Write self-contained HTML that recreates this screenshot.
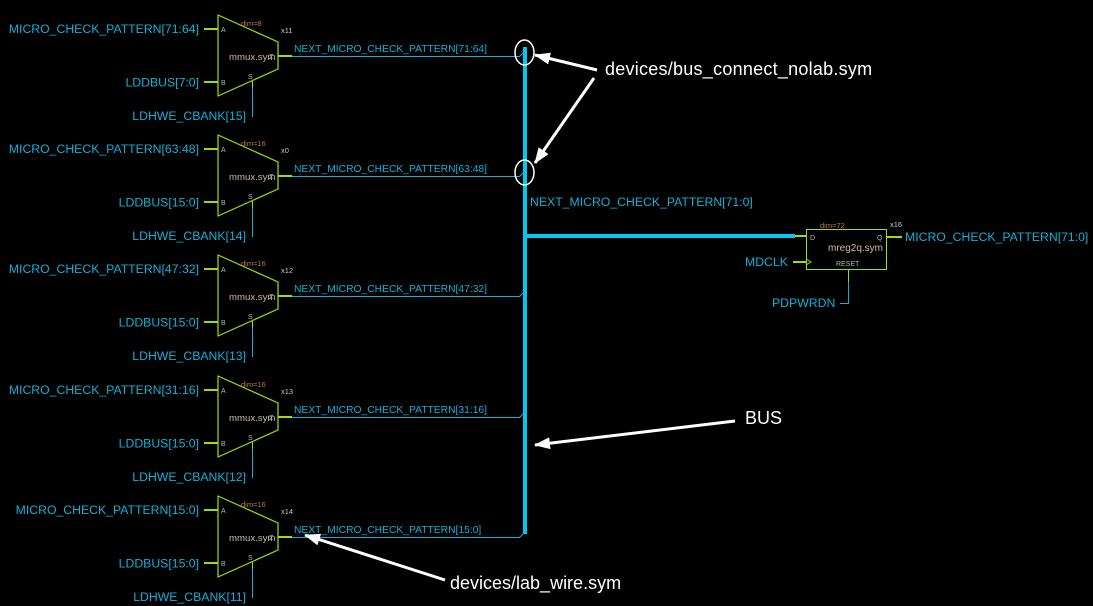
<!DOCTYPE html>
<html><head><meta charset="utf-8"><style>
html,body{margin:0;padding:0;background:#000;}
svg{display:block;}
text{font-family:"Liberation Sans",sans-serif;}
.lbl{fill:#12b0d8;font-size:12.25px;}
.wl{fill:#12b0d8;font-size:10.3px;}
.pin{fill:#b4b4b4;font-size:7px;}
.dim{fill:#b87a40;font-size:7.5px;}
.inst{fill:#c4c4c4;font-size:7.5px;}
.sym{fill:#cbb9a6;font-size:9.6px;}
.wh{fill:#fff;font-size:18px;}
.cr{shape-rendering:crispEdges;}
</style></head><body>
<svg width="1093" height="606" viewBox="0 0 1093 606" xmlns="http://www.w3.org/2000/svg">
<defs>
<marker id="ah" markerUnits="userSpaceOnUse" markerWidth="16" markerHeight="12" refX="15" refY="6" orient="auto">
<path d="M0,0 L16,6 L0,12 Z" fill="#fff"/>
</marker>
<g id="m0">
<polygon points="218,15 278,42 278,69 218,96" fill="none" stroke="#9fe000" stroke-width="1.2"/>
<g class="cr">
<line x1="204" y1="29" x2="218" y2="29" stroke="#9fe000" stroke-width="2"/>
<line x1="204" y1="82" x2="218" y2="82" stroke="#9fe000" stroke-width="2"/>
<line x1="278" y1="56" x2="292" y2="56" stroke="#9fe000" stroke-width="2"/>
<line x1="252.5" y1="81" x2="252.5" y2="88" stroke="#9fe000" stroke-width="1"/>
<line x1="252.5" y1="88" x2="252.5" y2="117" stroke="#12b0d8" stroke-width="1"/>
<line x1="292" y1="56.5" x2="520" y2="56.5" stroke="#12b0d8" stroke-width="1"/>
</g>
<line x1="519.5" y1="56.5" x2="523.5" y2="52.5" stroke="#12b0d8" stroke-width="1"/>
<text class="pin" x="221" y="32">A</text>
<text class="pin" x="221" y="85">B</text>
<text class="pin" x="248" y="79">S</text>
<text class="sym" x="229" y="60">mmux.sym</text>
<text class="pin" x="269" y="59">Z</text>
</g>
</defs>
<rect width="1093" height="606" fill="#000"/>

<use href="#m0"/>
<use href="#m0" y="120"/>
<use href="#m0" y="240"/>
<use href="#m0" y="361"/>
<use href="#m0" y="481"/>

<!-- dims & instances -->
<text class="dim" x="241" y="26">dim=8</text>
<text class="dim" x="241" y="146">dim=16</text>
<text class="dim" x="241" y="266">dim=16</text>
<text class="dim" x="241" y="387">dim=16</text>
<text class="dim" x="241" y="507">dim=16</text>
<text class="inst" x="281" y="33">x11</text>
<text class="inst" x="281" y="153">x0</text>
<text class="inst" x="281" y="273">x12</text>
<text class="inst" x="281" y="394">x13</text>
<text class="inst" x="281" y="514">x14</text>

<!-- left labels -->
<g class="lbl" text-anchor="end">
<text x="199" y="33">MICRO_CHECK_PATTERN[71:64]</text>
<text x="199" y="86.5">LDDBUS[7:0]</text>
<text x="246" y="120">LDHWE_CBANK[15]</text>
<text x="199" y="153">MICRO_CHECK_PATTERN[63:48]</text>
<text x="199" y="206.5">LDDBUS[15:0]</text>
<text x="246" y="240">LDHWE_CBANK[14]</text>
<text x="199" y="273">MICRO_CHECK_PATTERN[47:32]</text>
<text x="199" y="326.5">LDDBUS[15:0]</text>
<text x="246" y="360">LDHWE_CBANK[13]</text>
<text x="199" y="394">MICRO_CHECK_PATTERN[31:16]</text>
<text x="199" y="447.5">LDDBUS[15:0]</text>
<text x="246" y="481">LDHWE_CBANK[12]</text>
<text x="199" y="514">MICRO_CHECK_PATTERN[15:0]</text>
<text x="199" y="567.5">LDDBUS[15:0]</text>
<text x="246" y="601">LDHWE_CBANK[11]</text>
</g>

<!-- wire labels -->
<text class="wl" x="294" y="52">NEXT_MICRO_CHECK_PATTERN[71:64]</text>
<text class="wl" x="294" y="172">NEXT_MICRO_CHECK_PATTERN[63:48]</text>
<text class="wl" x="294" y="292">NEXT_MICRO_CHECK_PATTERN[47:32]</text>
<text class="wl" x="294" y="413">NEXT_MICRO_CHECK_PATTERN[31:16]</text>
<text class="wl" x="294" y="533">NEXT_MICRO_CHECK_PATTERN[15:0]</text>

<!-- bus -->
<g class="cr">
<line x1="525" y1="47" x2="525" y2="534" stroke="#00c8f0" stroke-width="4"/>
<line x1="525" y1="236" x2="795" y2="236" stroke="#00c8f0" stroke-width="4"/>
<line x1="795" y1="236" x2="806" y2="236" stroke="#9fe000" stroke-width="2"/>
</g>
<text class="lbl" x="530" y="206">NEXT_MICRO_CHECK_PATTERN[71:0]</text>

<!-- register -->
<rect class="cr" x="806.5" y="229.5" width="80" height="40" fill="none" stroke="#9fe000" stroke-width="1"/>
<g class="cr">
<line x1="887" y1="237" x2="902" y2="237" stroke="#9fe000" stroke-width="2"/>
<line x1="793" y1="262" x2="806" y2="262" stroke="#9fe000" stroke-width="2"/>
<line x1="848.5" y1="270" x2="848.5" y2="282" stroke="#9fe000" stroke-width="1"/>
<polyline points="848.5,282 848.5,303.5 840,303.5" fill="none" stroke="#12b0d8" stroke-width="1"/>
</g>
<polyline points="806,259 811,262 806,265" fill="none" stroke="#9fe000" stroke-width="1"/>
<text class="pin" x="810" y="240">D</text>
<text class="pin" x="877" y="240">Q</text>
<text class="sym" x="828" y="251" style="font-size:10px">mreg2q.sym</text>
<text class="pin" x="836" y="266">RESET</text>
<text class="dim" x="820" y="228">dim=72</text>
<text class="inst" x="890" y="227">x16</text>
<text class="lbl" x="905" y="241">MICRO_CHECK_PATTERN[71:0]</text>
<text class="lbl" x="745" y="266">MDCLK</text>
<text class="lbl" x="772" y="307">PDPWRDN</text>

<!-- annotations -->
<ellipse cx="524.5" cy="52.5" rx="9.5" ry="12.5" fill="none" stroke="#fff" stroke-width="1.5"/>
<ellipse cx="524.5" cy="172.5" rx="9.5" ry="12.5" fill="none" stroke="#fff" stroke-width="1.5"/>
<g stroke="#fff" stroke-width="3" fill="none" marker-end="url(#ah)">
<line x1="597" y1="70" x2="535" y2="55"/>
<line x1="594" y1="78" x2="535" y2="163"/>
<line x1="735" y1="421" x2="535" y2="445"/>
<line x1="445" y1="580" x2="305" y2="535"/>
</g>
<text class="wh" x="605" y="75" style="letter-spacing:0.25px">devices/bus_connect_nolab.sym</text>
<text class="wh" x="745" y="424">BUS</text>
<text class="wh" x="450" y="589">devices/lab_wire.sym</text>
</svg>
</body></html>
